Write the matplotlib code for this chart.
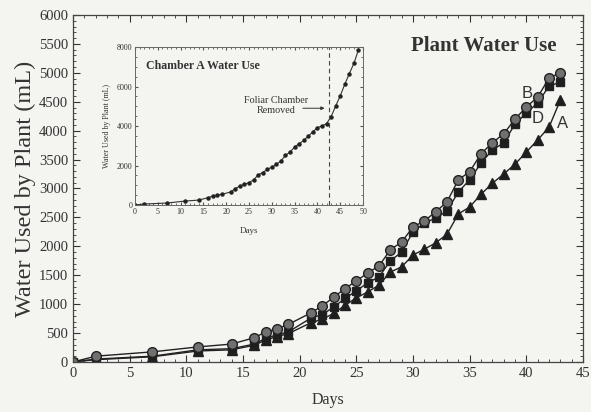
import matplotlib
matplotlib.use("Agg")
import matplotlib.pyplot as plt
from matplotlib.ticker import MultipleLocator

# ---- data ----
days = [0, 2, 7, 11, 14, 16, 17, 18, 19, 21, 22, 23, 24, 25, 26, 27, 28, 29, 30,
        31, 32, 33, 34, 35, 36, 37, 38, 39, 40, 41, 42, 43]
plant_B = [0, 100, 175, 260, 310, 420, 520, 570, 650, 850, 970, 1120, 1270, 1400,
           1540, 1660, 1940, 2075, 2335, 2440, 2595, 2770, 3150, 3290, 3600, 3790,
           3945, 4200, 4410, 4580, 4910, 5000]
plant_D = [0, 50, 100, 210, 230, 310, 410, 470, 520, 760, 820, 950, 1100, 1230,
           1370, 1470, 1750, 1900, 2250, 2400, 2490, 2610, 2940, 3150, 3440, 3665,
           3790, 4115, 4305, 4480, 4770, 4840]
plant_A = [0, 40, 90, 190, 210, 290, 380, 440, 490, 680, 740, 840, 980, 1110,
           1210, 1330, 1555, 1645, 1850, 1950, 2060, 2210, 2560, 2680, 2900, 3090,
           3250, 3420, 3630, 3840, 4060, 4530]

inset_days = [0, 2, 7, 11, 14, 16, 17, 18, 19, 21, 22, 23, 24, 25, 26, 27, 28, 29,
              30, 31, 32, 33, 34, 35, 36, 37, 38, 39, 40, 41, 42, 43, 44, 45, 46,
              47, 48, 49]
inset_A = [0, 50, 100, 200, 250, 370, 450, 500, 540, 660, 830, 960, 1050, 1130,
           1270, 1520, 1640, 1800, 1920, 2060, 2230, 2510, 2680, 2940, 3100, 3270,
           3490, 3700, 3920, 4000, 4120, 4470, 5010, 5520, 6110, 6650, 7170, 7850]
removed_day = 42.5

serif = ["Liberation Serif", "DejaVu Serif"]
sans = ["Liberation Sans", "DejaVu Sans"]

bg = "#f4f4f1"
fig = plt.figure(figsize=(5.91, 4.12), dpi=100, facecolor=bg)
ax = fig.add_axes([0.1235, 0.1214, 0.8630, 0.8422], facecolor=bg)

ax.plot(days, plant_A, marker="^", markerfacecolor="#1e1e1e", color="#222222",
        linewidth=1.0, markersize=7, markeredgecolor="#222222")
ax.plot(days, plant_D, marker="s", markerfacecolor="#1e1e1e", color="#222222",
        linewidth=1.0, markersize=6.3, markeredgecolor="#222222")
ax.plot(days, plant_B, marker="o", markerfacecolor="#707070", color="#222222",
        linewidth=1.0, markersize=7, markeredgecolor="#222222")

ax.set_xlim(0, 45)
ax.set_ylim(0, 6000)
ax.xaxis.set_major_locator(MultipleLocator(5))
ax.xaxis.set_minor_locator(MultipleLocator(1))
ax.yaxis.set_major_locator(MultipleLocator(500))
ax.yaxis.set_minor_locator(MultipleLocator(100))
ax.tick_params(which="both", direction="in", top=True, right=True, colors="#333333",
               labelcolor="#333333")
ax.tick_params(which="major", length=5, labelsize=10.5)
ax.tick_params(which="minor", length=2.5)
for lab in ax.get_xticklabels() + ax.get_yticklabels():
    lab.set_family(serif)
for s in ax.spines.values():
    s.set_color("#444444")
    s.set_linewidth(0.9)

ax.set_xlabel("Days", family=serif, fontsize=11.5, color="#333333", labelpad=9)
ax.set_ylabel("Water Used by Plant (mL)", family=serif, fontsize=17.5, color="#333333",
              labelpad=2)

ax.text(0.948, 0.912, "Plant Water Use", transform=ax.transAxes, ha="right", va="center",
        family=serif, fontsize=15, fontweight="bold", color="#333333")
ax.text(40.1, 4650, "B", family=sans, fontsize=12, color="#333333", ha="center", va="center")
ax.text(41.0, 4210, "D", family=sans, fontsize=12, color="#333333", ha="center", va="center")
ax.text(43.2, 4130, "A", family=sans, fontsize=12, color="#333333", ha="center", va="center")

# ---- inset ----
ins = fig.add_axes([0.2284, 0.5024, 0.3858, 0.3835], facecolor=bg)
ins.plot(inset_days, inset_A, color="#333333", linewidth=0.8, marker="o", markersize=2.2,
         markerfacecolor="#222222", markeredgecolor="#222222")
ins.axvline(removed_day, color="#444444", linestyle=(0, (4, 3)), linewidth=0.8)
ins.set_xlim(0, 50)
ins.set_ylim(0, 8000)
ins.xaxis.set_major_locator(MultipleLocator(5))
ins.xaxis.set_minor_locator(MultipleLocator(1))
ins.yaxis.set_major_locator(MultipleLocator(2000))
ins.yaxis.set_minor_locator(MultipleLocator(500))
ins.tick_params(which="both", direction="in", top=True, right=True, colors="#555555",
                labelcolor="#333333", labelsize=5.8, pad=2)
ins.tick_params(which="major", length=2.5)
ins.tick_params(which="minor", length=1.2)
for lab in ins.get_xticklabels() + ins.get_yticklabels():
    lab.set_family(serif)
for s in ins.spines.values():
    s.set_color("#666666")
    s.set_linewidth(0.7)
ins.set_xlabel("Days", family=serif, fontsize=6.5, color="#333333", labelpad=8)
ins.set_ylabel("Water Used by Plant (mL)", family=serif, fontsize=5.8, color="#333333",
               labelpad=4)
ins.text(0.05, 0.88, "Chamber A Water Use", transform=ins.transAxes, family=serif,
         fontsize=8.6, fontweight="bold", color="#333333", va="center")
ins.text(31.0, 5050, "Foliar Chamber\nRemoved", family=serif, fontsize=7.3,
         color="#333333", ha="center", va="center", linespacing=1.1)
ins.annotate("", xy=(removed_day - 0.3, 4900), xytext=(36.2, 4900),
             arrowprops=dict(arrowstyle="-|>", color="#333333", lw=0.7,
                             mutation_scale=5))

fig.savefig("out.png", dpi=100, facecolor=bg)
